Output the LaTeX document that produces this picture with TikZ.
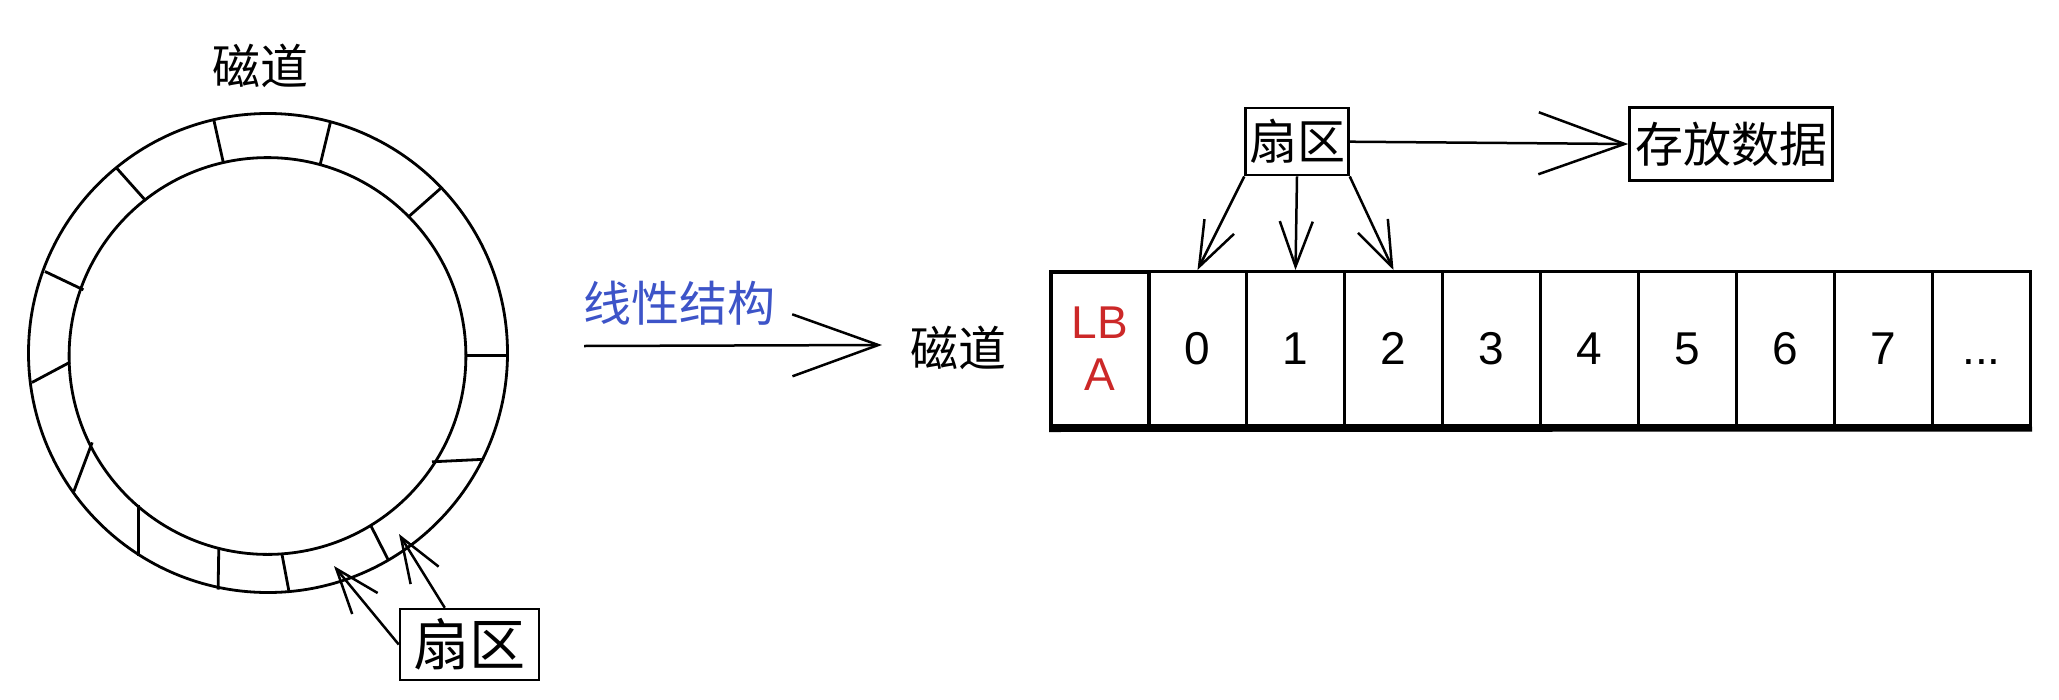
\documentclass[tikz,border=0pt]{standalone}
\usepackage{fontspec}
\setmainfont{Liberation Sans}
\newfontfamily\cjk{Noto Sans CJK SC}
\usetikzlibrary{arrows.meta, positioning}
\definecolor{linblue}{RGB}{61,84,200}
\definecolor{lbared}{RGB}{204,40,40}

\begin{document}
\begin{tikzpicture}[x=1pt, y=-1pt,
    box/.style={rectangle, draw, line width=2.5pt, inner sep=0pt, font=\cjk\fontsize{48}{53}\selectfont},
    cell/.style={rectangle, draw, line width=3pt, minimum width=98pt, minimum height=154pt, inner sep=0pt, anchor=north west, font=\fontsize{46}{52}\selectfont},
    zh/.style={font=\cjk\fontsize{48}{53}\selectfont},
    ring/.style={line width=2.8pt},
    arrow/.style={-{Straight Barb[length=45pt, width=33pt]}, line width=2.5pt},
    bigarrow/.style={-{Straight Barb[length=86pt, width=62pt]}, line width=2.5pt}
]

% Background and bounding box
\fill[white] (0,0) rectangle (2059,699);
\useasboundingbox (0,0) rectangle (2059,699);

% Track as a ring
\node[zh] (trk) at (260,66) {磁道};
\draw[ring] (268,353) circle[radius=239.5pt];
\draw[ring] (267.5,356) circle[radius=198.4pt];

% Sector dividers (outer point / inner point)
\foreach \xa/\ya/\xb/\yb in {213.6/119/223.3/162.5, 330.6/121.5/320.2/164.5, 117/168.5/145.8/200.8,
    440.5/188.5/407.8/217.4, 45/271.5/83.4/289.8, 508/355.8/465/355.8, 31.9/382.5/70/362.2,
    73.8/491.5/92.2/442.4, 138.5/555.5/138.5/504.8, 218.1/589.5/218.8/547.6, 289.2/592.6/281.9/553.9,
    388.3/560/370.6/525.2, 482/459.4/432/461.8}
    \draw[ring] (\xa,\ya) -- (\xb,\yb);

% Sector label below the ring
\node[box, minimum width=139pt, minimum height=71pt, font=\cjk\fontsize{56}{60}\selectfont] (sec) at (469.5,644.5) {扇区};
\coordinate (sec_a) at (334,566);
\coordinate (sec_b) at (399,534);
\draw[arrow] (sec.west) -- (sec_a);
\draw[arrow] ([xshift=46pt]sec.north west) -- (sec_b);

% Linear structure arrow
\node[zh, text=linblue] (lin) at (679,303) {线性结构};
\coordinate (lin_s) at (584,346);
\coordinate (lin_e) at (882,345);
\draw[bigarrow] (lin_s) -- (lin_e);
\node[zh] (trk2) at (958,348) {磁道};

% Track as a row of sectors
\node[cell, text=lbared, align=center, line width=3.5pt] (lba) at (1049,270) {LB\\A};
\foreach \i in {0,...,7}
    \node[cell] (c\i) at (1147+98*\i,270) {\i};
\node[cell] (cdots) at (1931,270) {\vphantom{0}...};
\draw[line width=5pt] ([yshift=-2pt]lba.south west) -- ([yshift=-2pt]cdots.south east);

% Sector and data boxes
\node[box, minimum width=103pt, minimum height=67pt] (sec2) at (1297,141.7) {扇区};
\node[box, minimum width=203pt, minimum height=73pt] (data) at (1731,144) {存放数据};

% Connections
\draw[arrow] (sec2.south west) -- (c0.north);
\draw[arrow] (sec2.south) -- (c1.north);
\draw[arrow] (sec2.south east) -- (c2.north);
\draw[bigarrow] (sec2.east) -- (data.west);

\end{tikzpicture}
\end{document}
